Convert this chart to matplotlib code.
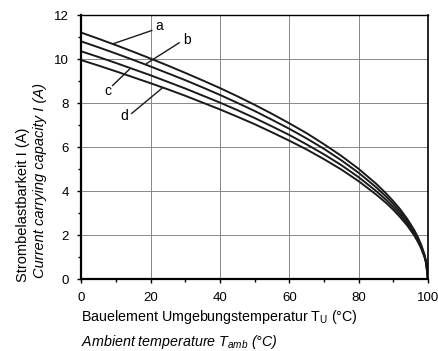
import matplotlib
matplotlib.use("Agg")
import matplotlib.pyplot as plt
from matplotlib.ticker import MultipleLocator

FONT = ['Liberation Sans Narrow', 'Liberation Sans', 'DejaVu Sans']
plt.rcParams['font.family'] = FONT
plt.rcParams['mathtext.fontset'] = 'custom'
plt.rcParams['mathtext.rm'] = 'Liberation Sans'
plt.rcParams['mathtext.it'] = 'Liberation Sans:italic'

# ambient temperature (degC)
temp = [0, 5, 10, 15, 20, 25, 30, 35, 40, 45, 50, 55, 60, 65, 70, 75, 80,
        85, 88, 90, 92, 94, 96, 97, 98, 99, 99.5, 100]
# current carrying capacity (A) per curve
curve_a = [11.2, 10.92, 10.63, 10.33, 10.02, 9.7, 9.37, 9.03, 8.68, 8.31, 7.92,
           7.51, 7.08, 6.63, 6.13, 5.6, 5.01, 4.34, 3.88, 3.54, 3.17, 2.74,
           2.24, 1.94, 1.58, 1.12, 0.79, 0]
curve_b = [10.8, 10.53, 10.25, 9.96, 9.66, 9.35, 9.04, 8.71, 8.37, 8.01, 7.64,
           7.24, 6.83, 6.39, 5.92, 5.4, 4.83, 4.18, 3.74, 3.41, 3.05, 2.65,
           2.16, 1.87, 1.53, 1.08, 0.76, 0]
curve_c = [10.35, 10.09, 9.82, 9.54, 9.26, 8.96, 8.66, 8.34, 8.02, 7.68, 7.32,
           6.94, 6.55, 6.12, 5.67, 5.18, 4.63, 4.01, 3.59, 3.27, 2.93, 2.53,
           2.07, 1.79, 1.46, 1.04, 0.73, 0]
curve_d = [9.95, 9.7, 9.44, 9.17, 8.9, 8.62, 8.33, 8.02, 7.71, 7.38, 7.04,
           6.67, 6.29, 5.89, 5.45, 4.98, 4.45, 3.85, 3.45, 3.15, 2.81, 2.44,
           1.99, 1.72, 1.41, 1.0, 0.7, 0]
curves = [curve_a, curve_b, curve_c, curve_d]

# labels: name, point on curve, leader end, text position
labels = [
    ('a', (9.2, 10.7), (20.3, 11.3), (22.4, 11.5)),
    ('b', (18.8, 9.8), (28.2, 10.74), (30.4, 10.85)),
    ('c', (13.8, 9.53), (9.0, 8.8), (7.6, 8.55)),
    ('d', (23.2, 8.67), (14.5, 7.53), (12.4, 7.4)),
]

fig = plt.figure(figsize=(4.38, 3.51), dpi=100)
ax = fig.add_axes([0.186, 0.205, 0.791, 0.752])

for c in curves:
    ax.plot(temp, c, color='#1a1a1a', lw=1.4, solid_joinstyle='round')

for name, p0, p1, pt in labels:
    ax.plot([p0[0], p1[0]], [p0[1], p1[1]], color='#1a1a1a', lw=1.0)
    ax.text(pt[0], pt[1], name, fontsize=10, ha='center', va='center')

ax.set_xlim(0, 100)
ax.set_ylim(0, 12)
ax.xaxis.set_major_locator(MultipleLocator(20))
ax.xaxis.set_minor_locator(MultipleLocator(10))
ax.yaxis.set_major_locator(MultipleLocator(2))
ax.yaxis.set_minor_locator(MultipleLocator(1))
ax.grid(True, which='major', color='#888888', lw=0.7)
ax.tick_params(which='major', length=3, width=1, labelsize=9.5, pad=6)
ax.tick_params(which='minor', length=2, width=1)
ax.spines['left'].set_linewidth(1.6)
ax.spines['bottom'].set_linewidth(1.6)
ax.spines['top'].set_linewidth(1.0)
ax.spines['right'].set_linewidth(1.2)

fig.text(0.052, 0.416, 'Strombelastbarkeit I (A)', rotation=90,
         fontsize=10.5, ha='center', va='center')
fig.text(0.091, 0.487, 'Current carrying capacity I (A)', rotation=90,
         fontsize=10.5, style='italic', ha='center', va='center')
fig.text(0.186, 0.098, r'Bauelement Umgebungstemperatur T$_\mathrm{U}$ (°C)',
         fontsize=10.3, ha='left', va='center')
fig.text(0.186, 0.027, r'Ambient temperature $T_{amb}$ (°C)',
         fontsize=10.3, style='italic', ha='left', va='center')

fig.savefig('out.png', dpi=100)
